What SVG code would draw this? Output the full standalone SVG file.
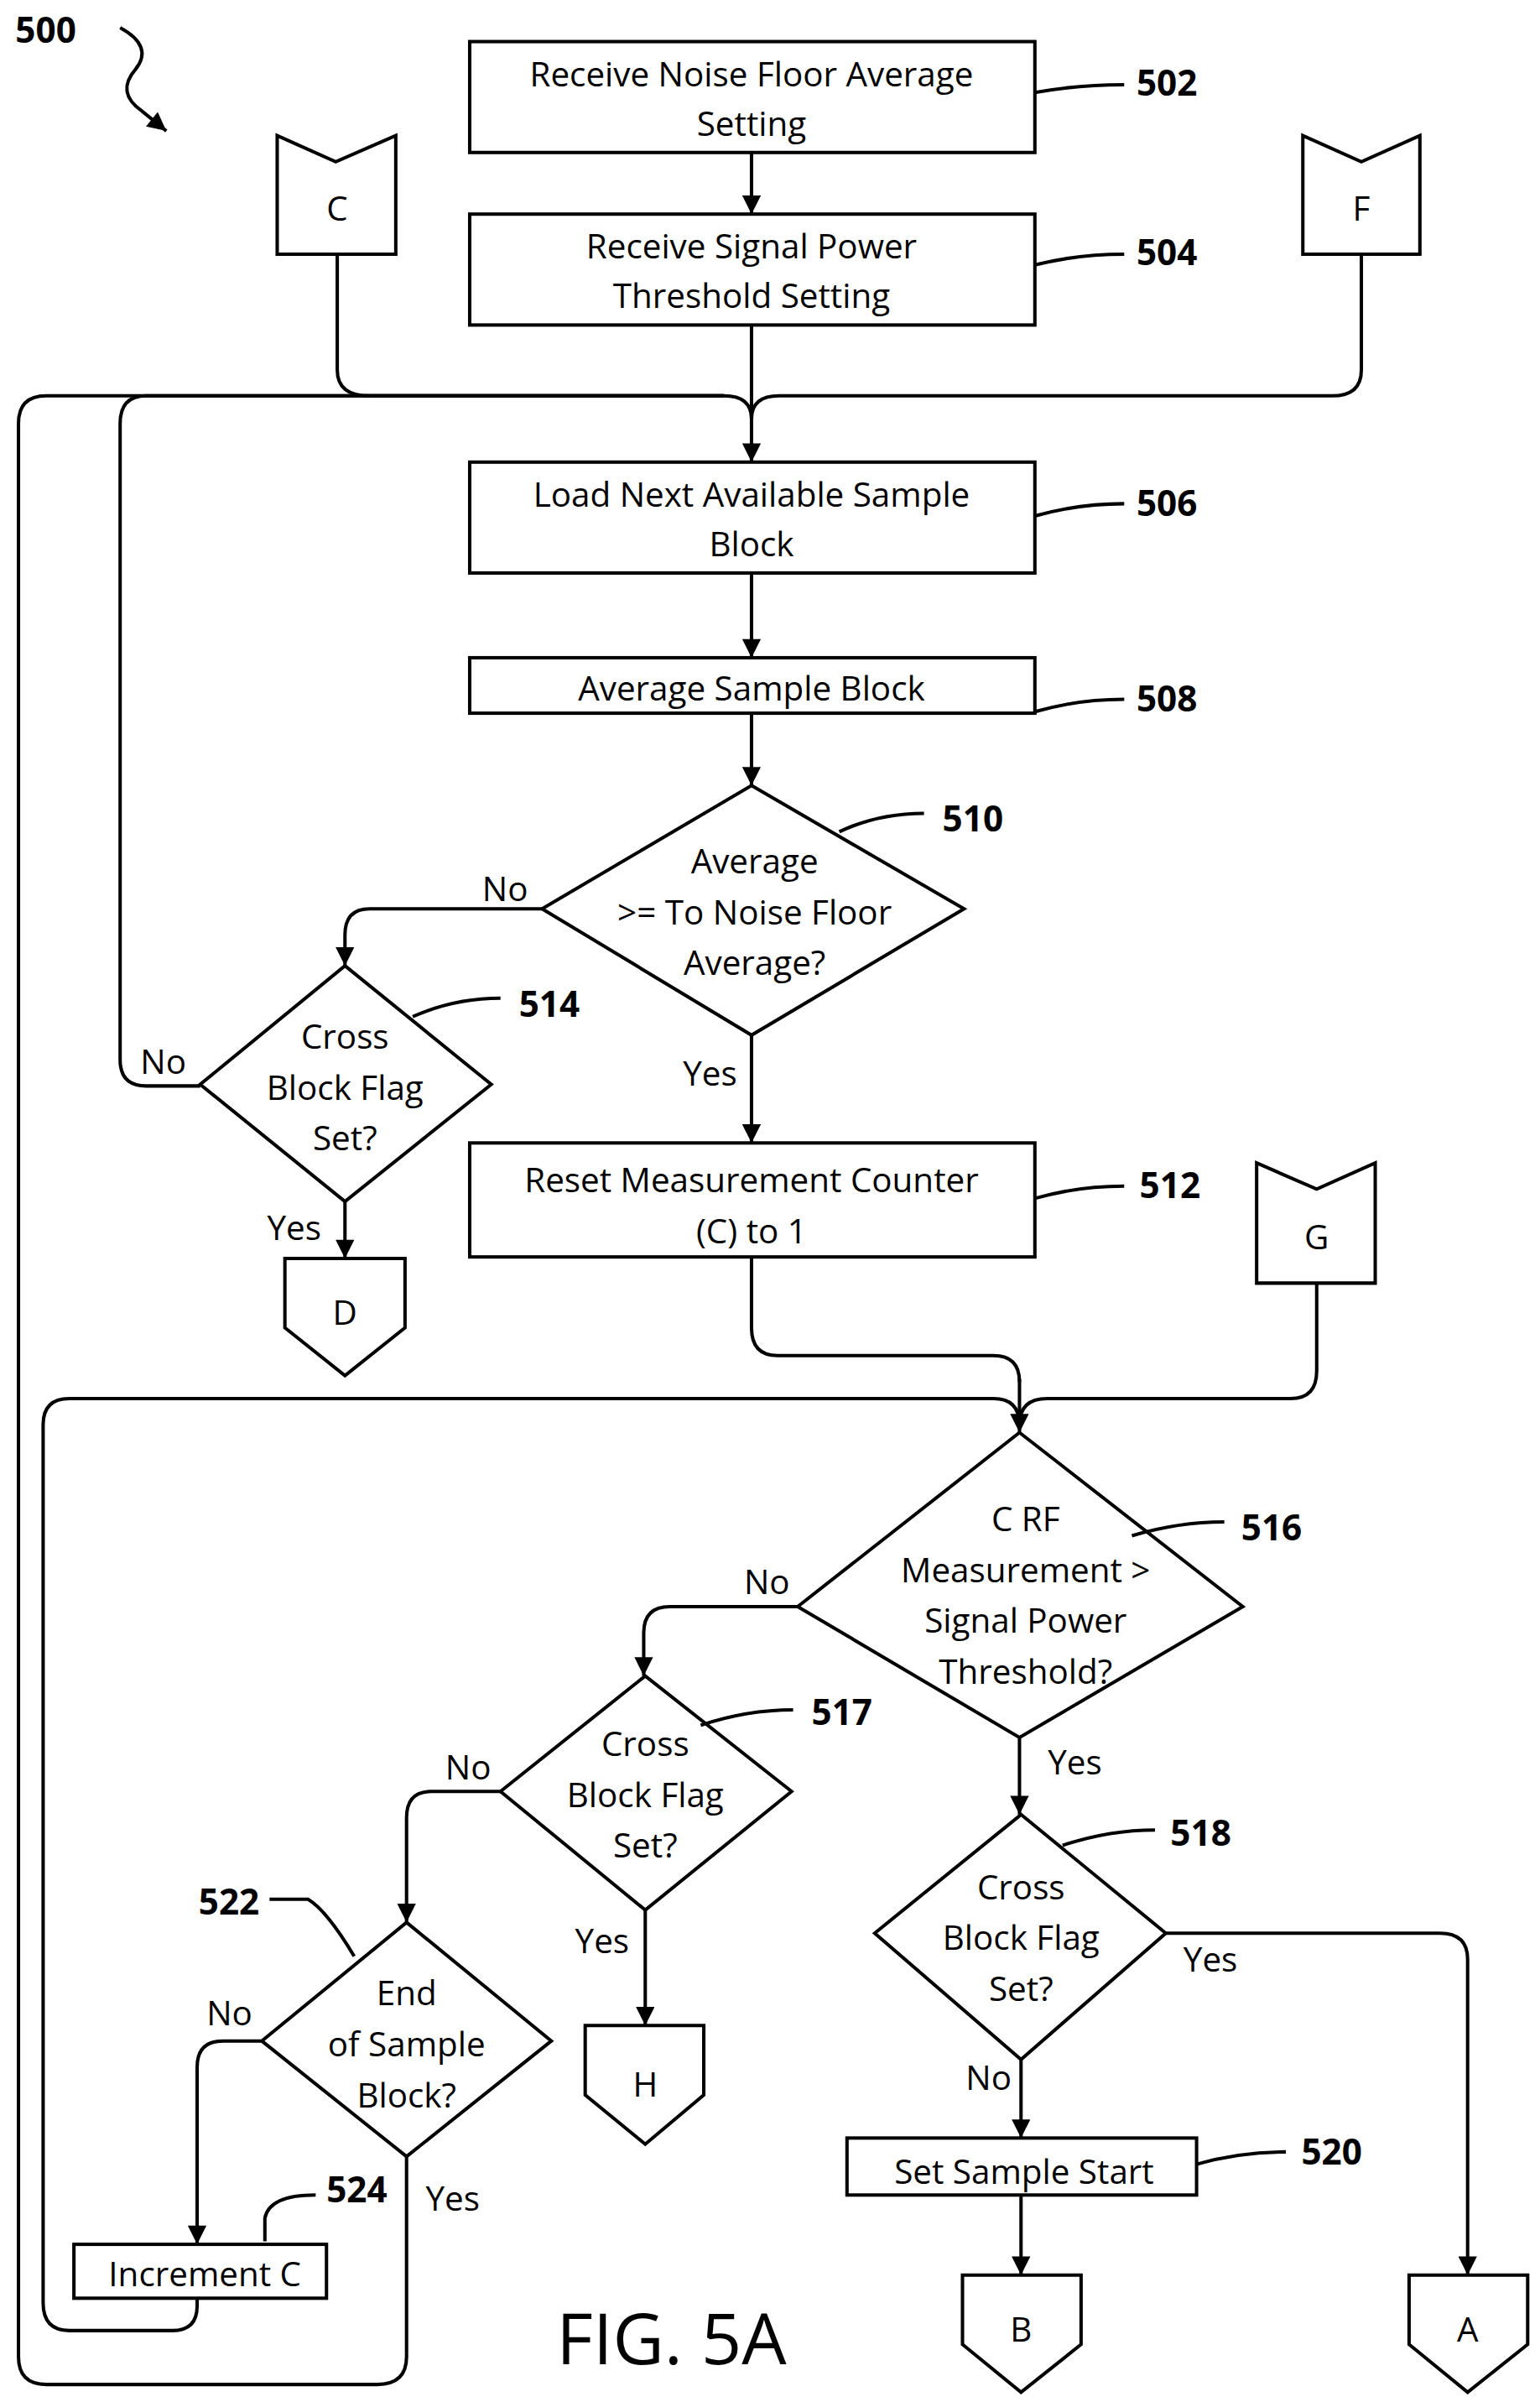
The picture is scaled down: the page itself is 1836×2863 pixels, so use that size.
<svg xmlns="http://www.w3.org/2000/svg" width="1836" height="2863" viewBox="0 0 1836 2863">
<defs>
<style>
.b{fill:#fff;stroke:#000;stroke-width:2.2}
.l{fill:none;stroke:#000;stroke-width:2.2}
.a{fill:none;stroke:#000;stroke-width:2.2;marker-end:url(#ah)}
text{font-family:"Open Sans","Noto Sans",sans-serif;font-size:22px;fill:#000;text-anchor:middle}
.n{font-weight:bold;text-anchor:start;font-size:23px}
.s{text-anchor:start}
</style>
<marker id="ah" viewBox="0 0 10 10" refX="10" refY="5" markerWidth="6" markerHeight="5.5" orient="auto" markerUnits="strokeWidth"><path d="M0,0L10,5L0,10z" fill="#000"/></marker>
</defs>
<rect width="1836" height="2863" fill="#fff"/>
<g transform="scale(1.836)">
<g id="connectors">
<path class="a" d="M488,99V139"/>
<path class="l" d="M219,165V240Q219,257 240,257H470Q488,257 488,272"/>
<path class="l" d="M884,165V240Q884,257 865,257H506Q488,257 488,272"/>
<path class="a" d="M488,211V300"/>
<path class="l" d="M264,1400V1530Q264,1548 245,1548H30Q12,1548 12,1530V275Q12,257 30,257H470"/>
<path class="l" d="M130,705H95Q78,705 78,688V275Q78,257 95,257H470"/>
<path class="a" d="M488,372V427"/>
<path class="a" d="M488,463V510"/>
<path class="a" d="M352,590H240Q224,590 224,607V627"/>
<path class="a" d="M224,780V817"/>
<path class="a" d="M488,672V742"/>
<path class="l" d="M488,816V862Q488,880 505,880H645Q662,880 662,897"/>
<path class="l" d="M855,833V890Q855,908 838,908H680Q662,908 662,925"/>
<path class="l" d="M128,1492V1497Q128,1513 112,1513H45Q28,1513 28,1495V925Q28,908 45,908H645Q662,908 662,925"/>
<path class="a" d="M662,895V930"/>
<path class="a" d="M518,1043H435Q418,1043 418,1060V1088"/>
<path class="a" d="M419,1240V1315"/>
<path class="a" d="M325,1163H280Q264,1163 264,1180V1248"/>
<path class="a" d="M170,1325H145Q128,1325 128,1342V1457"/>
<path class="a" d="M662,1128V1178"/>
<path class="a" d="M757,1255H935Q953,1255 953,1272V1477"/>
<path class="a" d="M663,1337V1388"/>
<path class="a" d="M663,1425V1477"/>
<path class="a" d="M78,18Q100,30 88,45Q75,60 92,72L108,85" />
</g>
<g id="labels">
<text class="n" x="10" y="28">500</text>
<text x="328" y="585">No</text><text x="106" y="697">No</text><text x="191" y="805">Yes</text>
<text x="461" y="705">Yes</text><text x="498" y="1035">No</text><text x="304" y="1155">No</text>
<text x="391" y="1268">Yes</text><text x="149" y="1315">No</text><text x="294" y="1435">Yes</text>
<text x="698" y="1152">Yes</text><text x="786" y="1280">Yes</text><text x="642" y="1357">No</text>
<text x="436" y="1535" style="font-size:46px">FIG. 5A</text>
</g>
<g id="n502"><rect class="b" x="305" y="27" width="367" height="72"/><text x="488" y="56">Receive Noise Floor Average</text><text x="488" y="88">Setting</text><path class="l" d="M672,60Q700,55 730,55"/><text class="n" x="738" y="62">502</text></g>
<g id="n504"><rect class="b" x="305" y="139" width="367" height="72"/><text x="488" y="168">Receive Signal Power</text><text x="488" y="200">Threshold Setting</text><path class="l" d="M672,172Q700,165 730,165"/><text class="n" x="738" y="172">504</text></g>
<g id="nC"><path class="b" d="M180,88L218,105L257,88V165H180Z"/><text x="219" y="143">C</text></g>
<g id="nF"><path class="b" d="M846,88L884,105L922,88V165H846Z"/><text x="884" y="143">F</text></g>
<g id="n506"><rect class="b" x="305" y="300" width="367" height="72"/><text x="488" y="329">Load Next Available Sample</text><text x="488" y="361">Block</text><path class="l" d="M672,335Q700,327 730,327"/><text class="n" x="738" y="335">506</text></g>
<g id="n508"><rect class="b" x="305" y="427" width="367" height="36"/><text x="488" y="455">Average Sample Block</text><path class="l" d="M672,462Q700,454 730,454"/><text class="n" x="738" y="462">508</text></g>
<g id="n510"><path class="b" d="M488,510L626,590L488,672L352,590Z"/><text x="490" y="567">Average</text><text x="490" y="600">&gt;= To Noise Floor</text><text x="490" y="633">Average?</text><path class="l" d="M545,540Q570,528 600,528"/><text class="n" x="612" y="540">510</text></g>
<g id="n514"><path class="b" d="M224,627L319,704L224,780L130,704Z"/><text x="224" y="681">Cross</text><text x="224" y="714">Block Flag</text><text x="224" y="747">Set?</text><path class="l" d="M268,660Q295,648 325,648"/><text class="n" x="337" y="660">514</text></g>
<g id="nD"><path class="b" d="M185,817H263V862L224,893L185,862Z"/><text x="224" y="860">D</text></g>
<g id="n512"><rect class="b" x="305" y="742" width="367" height="74"/><text x="488" y="774">Reset Measurement Counter</text><text x="488" y="807">(C) to 1</text><path class="l" d="M672,778Q700,770 730,770"/><text class="n" x="740" y="778">512</text></g>
<g id="nG"><path class="b" d="M816,755L855,772L893,755V833H816Z"/><text x="855" y="811">G</text></g>
<g id="n516"><path class="b" d="M662,930L807,1043L662,1128L518,1043Z"/><text x="666" y="994">C RF</text><text x="666" y="1027">Measurement &gt;</text><text x="666" y="1060">Signal Power</text><text x="666" y="1093">Threshold?</text><path class="l" d="M735,997Q765,988 795,988"/><text class="n" x="806" y="1000">516</text></g>
<g id="n517"><path class="b" d="M419,1088L514,1163L419,1240L325,1163Z"/><text x="419" y="1140">Cross</text><text x="419" y="1173">Block Flag</text><text x="419" y="1206">Set?</text><path class="l" d="M455,1120Q485,1110 515,1110"/><text class="n" x="527" y="1120">517</text></g>
<g id="nH"><path class="b" d="M380,1315H457V1360L419,1392L380,1360Z"/><text x="419" y="1361">H</text></g>
<g id="n522"><path class="b" d="M264,1248L358,1325L264,1400L170,1325Z"/><text x="264" y="1302">End</text><text x="264" y="1335">of Sample</text><text x="264" y="1368">Block?</text><path class="l" d="M175,1233H200Q212,1240 230,1270"/><text class="n" x="129" y="1243">522</text></g>
<g id="n524"><rect class="b" x="48" y="1457" width="164" height="35"/><text x="133" y="1484">Increment C</text><path class="l" d="M172,1455V1440Q175,1425 205,1425"/><text class="n" x="212" y="1430">524</text></g>
<g id="n518"><path class="b" d="M663,1178L757,1255L663,1337L568,1255Z"/><text x="663" y="1233">Cross</text><text x="663" y="1266">Block Flag</text><text x="663" y="1299">Set?</text><path class="l" d="M690,1198Q720,1188 750,1188"/><text class="n" x="760" y="1198">518</text></g>
<g id="n520"><rect class="b" x="550" y="1388" width="227" height="37"/><text x="665" y="1418">Set Sample Start</text><path class="l" d="M777,1405Q805,1397 835,1397"/><text class="n" x="845" y="1405">520</text></g>
<g id="nB"><path class="b" d="M625,1477H702V1522L663,1553L625,1522Z"/><text x="663" y="1520">B</text></g>
<g id="nA"><path class="b" d="M915,1477H992V1522L953,1553L915,1522Z"/><text x="953" y="1520">A</text></g>
</g>
</svg>
